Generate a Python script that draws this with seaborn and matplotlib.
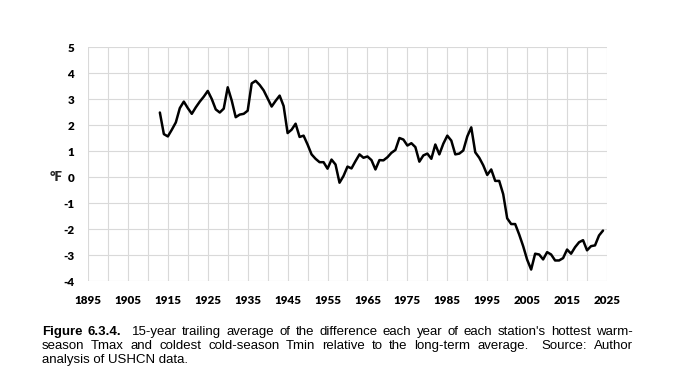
import numpy as np
import pandas as pd
import matplotlib
matplotlib.use("Agg")
import matplotlib.pyplot as plt
import seaborn as sns

years = list(range(1913, 2025))
values = [
    2.48, 1.65, 1.56, 1.82, 2.10, 2.65, 2.90, 2.65, 2.43, 2.68,   # 1913-1922
    2.90, 3.09, 3.31, 3.00, 2.60, 2.48, 2.63, 3.45, 2.94, 2.30,   # 1923-1932
    2.40, 2.43, 2.55, 3.60, 3.70, 3.54, 3.33, 3.02, 2.71, 2.93,   # 1933-1942
    3.13, 2.73, 1.69, 1.82, 2.05, 1.54, 1.59, 1.25, 0.87, 0.70,   # 1943-1952
    0.57, 0.57, 0.32, 0.67, 0.48, -0.22, 0.04, 0.40, 0.33, 0.61,  # 1953-1962
    0.87, 0.74, 0.79, 0.65, 0.29, 0.65, 0.64, 0.76, 0.93, 1.04,   # 1963-1972
    1.50, 1.44, 1.21, 1.30, 1.15, 0.59, 0.83, 0.90, 0.70, 1.25,   # 1973-1982
    0.87, 1.28, 1.59, 1.40, 0.87, 0.90, 1.02, 1.56, 1.91, 0.95,   # 1983-1992
    0.74, 0.45, 0.08, 0.29, -0.15, -0.15, -0.66, -1.59, -1.81, -1.81,  # 1993-2002
    -2.21, -2.66, -3.18, -3.56, -2.95, -2.98, -3.17, -2.89, -2.98, -3.21,  # 2003-2012
    -3.21, -3.12, -2.79, -2.95, -2.70, -2.51, -2.43, -2.82, -2.66, -2.63,  # 2013-2022
    -2.25, -2.06,  # 2023-2024
]
x_label_ticks = list(range(1895, 2026, 10))
x_grid_ticks = list(range(1895, 2026, 5))
y_ticks = list(range(-4, 6))
y_label = "°F"
caption_lines = [
    [("Figure", "bold"), ("6.3.4.", "bold"), ("", None), ("15-year", "normal"), ("trailing", "normal"),
     ("average", "normal"), ("of", "normal"), ("the", "normal"), ("difference", "normal"), ("each", "normal"),
     ("year", "normal"), ("of", "normal"), ("each", "normal"), ("station's", "normal"), ("hottest", "normal"),
     ("warm-", "normal")],
    [("season", "normal"), ("Tmax", "normal"), ("and", "normal"), ("coldest", "normal"), ("cold-season", "normal"),
     ("Tmin", "normal"), ("relative", "normal"), ("to", "normal"), ("the", "normal"), ("long-term", "normal"),
     ("average.", "normal"), ("", None), ("Source:", "normal"), ("Author", "normal")],
]
caption_last = "analysis of USHCN data."

sns.set_theme(style="white")
plt.rcParams['font.family'] = ['Lato', 'DejaVu Sans']

W, H = 686, 391
fig = plt.figure(figsize=(W / 100, H / 100), dpi=100)
ax = fig.add_axes([88 / W, 1 - 281 / H, (607 - 88) / W, (281 - 47) / H])

df = pd.DataFrame({"year": years, "value": values})
sns.lineplot(data=df, x="year", y="value", ax=ax, color="black", linewidth=1.8)

ax.set_xlim(1895, 2025)
ax.set_ylim(-4, 5)
ax.set_xticks(x_label_ticks)
ax.set_xticklabels([str(t) for t in x_label_ticks])
ax.set_xticks(x_grid_ticks, minor=True)
ax.set_yticks(y_ticks)
ax.set_yticklabels([str(t) for t in y_ticks])
ax.grid(True, which="both", axis="x", color="#d9d9d9", linewidth=0.8)
ax.grid(True, which="major", axis="y", color="#d9d9d9", linewidth=0.8)
for s in ax.spines.values():
    s.set_visible(False)
ax.tick_params(axis="both", which="both", length=0)
ax.tick_params(axis="x", pad=10)
ax.tick_params(axis="y", pad=10)
for lab in ax.get_xticklabels() + ax.get_yticklabels():
    lab.set_fontweight("heavy")
    lab.set_fontsize(8.4)
    lab.set_color("black")
ax.set_xlabel("")
ax.set_ylabel("")
fig.text(56 / W, 1 - 177 / H, y_label, fontsize=9.5, fontweight="heavy", ha="center", va="center")

# caption (justified lines)
cap_font = ["Liberation Sans", "DejaVu Sans"]
cap_size = 9.5
left_px, right_px = 42, 633
baselines = [335, 349, 363]
fig.canvas.draw()
renderer = fig.canvas.get_renderer()
for li, words in enumerate(caption_lines):
    objs = []
    gaps = 0
    for w, wt in words:
        if wt is None:
            gaps += 1
            continue
        t = fig.text(0, 1 - baselines[li] / H, w, fontsize=cap_size, fontweight=wt,
                     family=cap_font, ha="left", va="baseline", color="black")
        objs.append(t)
    n_gap_units = (len(objs) - 1) + gaps
    widths = [o.get_window_extent(renderer).width for o in objs]
    gap = (right_px - left_px - sum(widths)) / n_gap_units
    x = left_px
    oi = 0
    for w, wt in words:
        if wt is None:
            x += gap
            continue
        objs[oi].set_x(x / W)
        x += widths[oi] + gap
        oi += 1
fig.text(left_px / W, 1 - baselines[2] / H, caption_last, fontsize=cap_size, family=cap_font,
         ha="left", va="baseline", color="black")

fig.savefig("out.png", dpi=100)
